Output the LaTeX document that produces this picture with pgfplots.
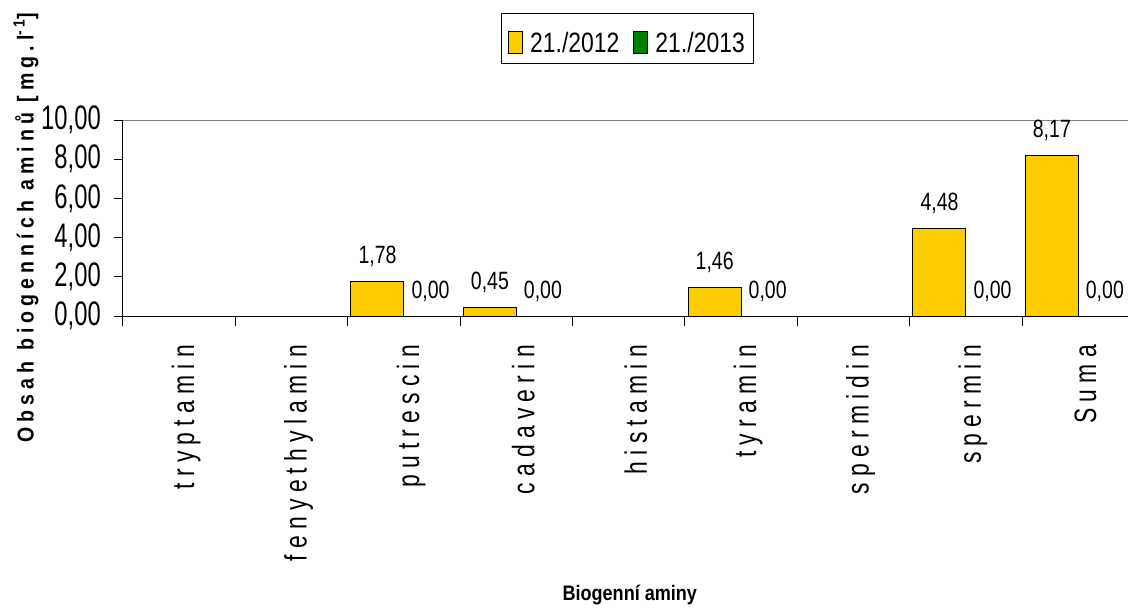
\documentclass[border=0pt]{standalone}
\usepackage{pgfplots}
\usepackage{pgfplotstable}
\pgfplotsset{compat=1.18}
\usepackage{fontspec}
\setmainfont{Liberation Sans}
\newfontfamily\tickfont[FakeStretch=0.70]{Liberation Sans}
\newfontfamily\catfont[FakeStretch=0.74,LetterSpace=20]{Liberation Sans}
\newfontfamily\valfont[FakeStretch=0.78]{Liberation Sans}
\newfontfamily\legfont[FakeStretch=0.82]{Liberation Sans}
\newfontfamily\ylabfont[FakeStretch=0.85,LetterSpace=22]{Liberation Sans}
\newfontfamily\xlabfont[FakeStretch=0.86]{Liberation Sans}

\definecolor{barY}{HTML}{FFCC00}
\definecolor{barG}{HTML}{008000}
\definecolor{frameGray}{HTML}{808080}

% amine contents per sample (categories 0..8)
\pgfplotstableread{
x y
2 1.78
3 0.45
5 1.46
7 4.48
8 8.17
}\tabA
\pgfplotstableread{
x y
2 0
3 0
5 0
7 0
8 0
}\tabB

\begin{document}
\begin{tikzpicture}
\useasboundingbox (-123pt,-295pt) rectangle (1005pt,316pt);
\begin{axis}[
  at={(0,0)}, anchor=south west,
  scale only axis, width=1011.6pt, height=196pt,
  clip=false,
  ybar=0pt, bar width=53pt,
  xmin=-0.5, xmax=8.5, ymin=0, ymax=10,
  axis x line*=bottom, axis y line*=left,
  axis line style={black, line width=1pt},
  tick style={black, line width=1pt},
  tick align=outside,
  major tick length=9pt,
  minor tick length=10pt,
  xtick={0,1,2,3,4,5,6,7,8},
  minor xtick={-0.5,0.5,1.5,2.5,3.5,4.5,5.5,6.5,7.5,8.5},
  major x tick style={draw=none},
  xticklabels={tryptamin,fenyethylamin,putrescin,cadaverin,histamin,tyramin,spermidin,spermin,Suma},
  x tick label style={font=\catfont\fontsize{31}{33}\selectfont, rotate=90, anchor=east, inner sep=0pt, xshift=-20pt, yshift=-7pt},
  ytick={0,2,4,6,8,10},
  yticklabel={\pgfmathprintnumber[fixed,fixed zerofill,precision=2,use comma,assume math mode=true]{\tick}},
  y tick label style={font=\tickfont\fontsize{34}{36}\selectfont, inner sep=0pt, xshift=-13pt},
  xlabel={Biogenní aminy},
  xlabel style={at={(axis description cs:0.501,-1.423)}, anchor=center,
    font=\xlabfont\bfseries\fontsize{21}{24}\selectfont},
  ylabel={Obsah biogenních aminů [mg.l\textsuperscript{-1}]},
  ylabel style={at={(axis description cs:-0.0959,0.452)}, anchor=center,
    font=\ylabfont\bfseries\fontsize{23}{25}\selectfont},
  legend style={at={(axis description cs:0.4987,1.416)}, anchor=center,
    draw=black, line width=0.8pt, legend columns=2,
    font=\legfont\fontsize{28}{30}\selectfont,
    inner xsep=7pt, inner ysep=8pt,
    /tikz/every odd column/.append style={column sep=5pt},
    /tikz/every even column/.append style={column sep=12pt}},
  nodes near coords,
  nodes near coords style={font=\valfont\fontsize{25}{27}\selectfont, text=black, inner sep=0pt, anchor=base, yshift=18pt},
  /pgf/number format/.cd, fixed, fixed zerofill, precision=2, use comma, assume math mode=true,
]
\addplot[fill=barY, draw=black, line width=1pt,
  legend image code/.code={\draw[fill=barY,draw=black,line width=1pt] (0pt,-11pt) rectangle (14pt,11pt); \path (0pt,21pt);}]
  table[x=x,y=y]{\tabA};
\addplot[fill=barG, draw=black, line width=1pt,
  legend image code/.code={\draw[fill=barG,draw=black,line width=1pt] (0pt,-11pt) rectangle (14pt,11pt); \path (0pt,21pt);}]
  table[x=x,y=y]{\tabB};
\legend{21./2012,21./2013}
\draw[frameGray, line width=1pt] (rel axis cs:0,1) -- (rel axis cs:1,1);
\end{axis}
\end{tikzpicture}
\end{document}
